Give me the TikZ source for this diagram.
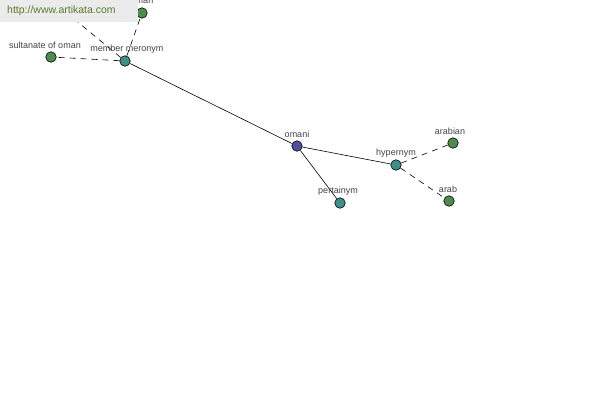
\documentclass[tikz,border=0pt]{standalone}
\usepackage{fontspec}
\setmainfont{Liberation Sans}
\usetikzlibrary{backgrounds}
\definecolor{ngreen}{HTML}{4E8C4E}
\definecolor{nteal}{HTML}{3D8F8A}
\definecolor{nblue}{HTML}{5050A0}
\definecolor{lblc}{HTML}{444444}
\definecolor{bannerbg}{HTML}{EBEBEB}
\definecolor{bannertx}{HTML}{5B7A2E}
\tikzset{
  dot/.style={circle, draw=black, line width=0.6pt, minimum size=10.5pt, inner sep=0pt},
  gdot/.style={dot, fill=ngreen},
  tdot/.style={dot, fill=nteal},
  bdot/.style={dot, fill=nblue},
  lbl/.style={font=\fontsize{9}{10}\selectfont, text=lblc, inner sep=0pt},
  solidedge/.style={draw=black, line width=0.6pt},
  dashedge/.style={draw=black, line width=0.6pt, dash pattern=on 6pt off 5pt},
}
\begin{document}
\begin{tikzpicture}[x=1pt,y=-1pt]
\useasboundingbox (0,0) rectangle (600,400);
% nodes
\node[bdot] (omani) at (297,146) {};
\node[tdot] (mm) at (125,61) {};
\node[tdot] (hyp) at (396,165) {};
\node[tdot] (pert) at (340,203) {};
\node[gdot] (sult) at (51,57) {};
\node[gdot] (oman) at (142,13) {};
\node[gdot] (arabian) at (453,143) {};
\node[gdot] (arab) at (449,201) {};
\coordinate (hidden) at (45,-5);
% labels
\node[lbl] (omani-l) at (297,134) {omani};
\node[lbl] (mm-l) at (127,49) {member meronym};
\node[lbl] (hyp-l) at (396,153) {hypernym};
\node[lbl] (pert-l) at (338,191) {pertainym};
\node[lbl] (sult-l) at (45,45) {sultanate of oman};
\node[lbl] (oman-l) at (142,1) {oman};
\node[lbl] (arabian-l) at (450,131) {arabian};
\node[lbl] (arab-l) at (448,189) {arab};
% edges
\begin{scope}[on background layer]
\fill[white] (0,0) rectangle (600,400);
\draw[solidedge] (omani) -- (mm);
\draw[solidedge] (omani) -- (hyp);
\draw[solidedge] (omani) -- (pert);
\draw[dashedge] (mm) -- (sult);
\draw[dashedge] (mm) -- (oman);
\draw[dashedge] (mm) -- (hidden);
\draw[dashedge] (hyp) -- (arabian);
\draw[dashedge] (hyp) -- (arab);
\end{scope}
% banner
\fill[bannerbg] (0,0) rectangle (138,22);
\node[font=\fontsize{10.5}{12}\selectfont, text=bannertx, anchor=west, inner sep=0pt] (banner) at (7,11) {http://www.artikata.com};
\end{tikzpicture}
\end{document}
